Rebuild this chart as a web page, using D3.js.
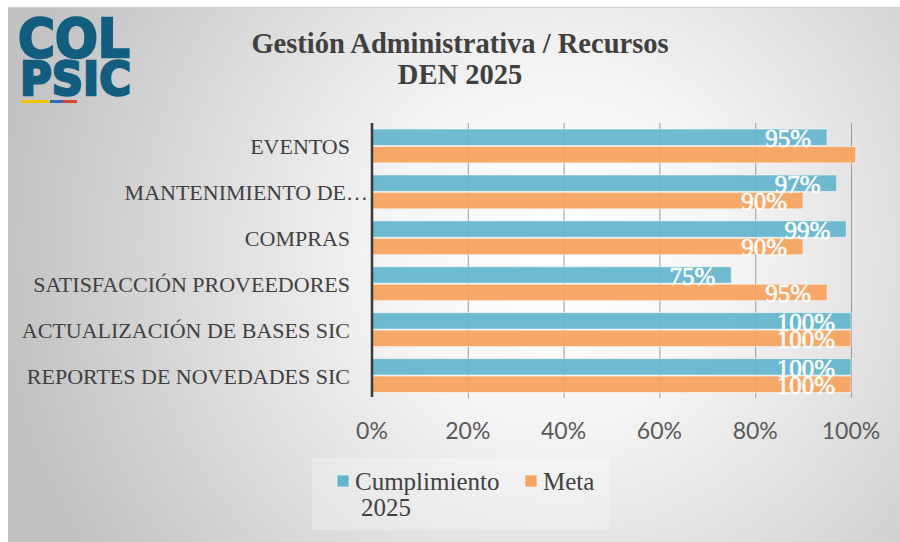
<!DOCTYPE html>
<html><head><meta charset="utf-8">
<script src="https://cdn.jsdelivr.net/npm/d3@7"></script>
<style>body{margin:0;background:#fff}svg{display:block}</style>
</head><body>
<svg id="c" width="900" height="542"></svg>
<script>
const categories = ["EVENTOS","MANTENIMIENTO DE…","COMPRAS","SATISFACCIÓN PROVEEDORES","ACTUALIZACIÓN DE BASES SIC","REPORTES DE NOVEDADES SIC"];
const cumplimiento = [95,97,99,75,100,100];
const meta = [101,90,90,95,100,100];
const metaLabelShown = [false,true,true,true,true,true];
const cumpLabelShown = [true,true,true,true,true,true];
const xTicks = [0,20,40,60,80,100];
const seriesNames = ["Cumplimiento 2025","Meta"];
const titleLines = ["Gestión Administrativa / Recursos","DEN 2025"];

const BLUE = "#63b5cc", ORANGE = "#f5a25e";
const svg = d3.select("#c");
const defs = svg.append("defs");
const rg = defs.append("radialGradient").attr("id","bg")
  .attr("gradientUnits","userSpaceOnUse")
  .attr("cx",560).attr("cy",250).attr("r",560).attr("fx",560).attr("fy",250);
rg.append("stop").attr("offset","0").attr("stop-color","#ffffff");
rg.append("stop").attr("offset","0.3").attr("stop-color","#f5f5f5");
rg.append("stop").attr("offset","1").attr("stop-color","#c2c2c2");

svg.append("rect").attr("x",8).attr("y",7).attr("width",892).attr("height",535).attr("fill","url(#bg)");
svg.append("line").attr("x1",8).attr("x2",900).attr("y1",7.5).attr("y2",7.5).attr("stroke","#d0d0d0").attr("stroke-width",1);

// logo
const logo = svg.append("g");
logo.append("text").attr("x",18).attr("y",57).attr("font-family","DejaVu Sans").attr("font-weight","bold")
  .attr("font-size",54).attr("fill","#115e80").attr("stroke","#115e80").attr("stroke-width",2.5)
  .attr("textLength",112).attr("lengthAdjust","spacingAndGlyphs").text("COL");
logo.append("text").attr("x",20).attr("y",95).attr("font-family","DejaVu Sans").attr("font-weight","bold")
  .attr("font-size",46).attr("fill","#115e80").attr("stroke","#115e80").attr("stroke-width",2.5)
  .attr("textLength",111).attr("lengthAdjust","spacingAndGlyphs").text("PSIC");
[["#f2c200",21,49],["#2a6fb3",50,63],["#d9442c",63,77]].forEach(([c,a,b])=>{
  logo.append("rect").attr("x",a).attr("y",100).attr("width",b-a).attr("height",3).attr("fill",c);
});

// title
svg.append("text").attr("x",460).attr("font-family","Liberation Serif").attr("font-weight","bold")
  .attr("font-size",28.5).attr("fill","#404040").attr("text-anchor","middle")
  .selectAll("tspan").data(titleLines).join("tspan")
  .attr("x",460).attr("y",(d,i)=>53+i*31).text(d=>d);

const x = d3.scaleLinear().domain([0,100]).range([372,851]);
const y = d3.scaleBand().domain(categories).range([123,398.5]).paddingInner(0.24).paddingOuter(0.12);
const sub = d3.scaleBand().domain([0,1]).range([0,y.bandwidth()]);

// gridlines
svg.append("g").selectAll("line").data(xTicks.filter(t=>t>0)).join("line")
  .attr("x1",d=>x(d)+0.5).attr("x2",d=>x(d)+0.5).attr("y1",123).attr("y2",398)
  .attr("stroke","#9a9a9a").attr("stroke-width",1);

const series = [cumplimiento, meta];
const colors = [BLUE, ORANGE];
const shown = [cumpLabelShown, metaLabelShown];
series.forEach((vals,si)=>{
  const g = svg.append("g");
  g.selectAll("rect").data(categories).join("rect")
    .attr("x",x(0)).attr("y",d=>y(d)+sub(si)+0.5)
    .attr("width",(d,i)=>x(vals[i])-x(0)).attr("height",sub.bandwidth()-1)
    .attr("fill",colors[si]).attr("fill-opacity",0.93)
    .attr("stroke","#ffffff").attr("stroke-opacity",0.55).attr("stroke-width",1);
});
series.forEach((vals,si)=>{
  svg.append("g").selectAll("text").data(categories.filter((d,i)=>shown[si][i])).join("text")
    .attr("x",d=>x(vals[categories.indexOf(d)])-16)
    .attr("y",d=>y(d)+sub(si)+sub.bandwidth()+1)
    .attr("text-anchor","end").attr("font-family","Liberation Serif").attr("font-size",25)
    .attr("fill","#ffffff").attr("stroke","#ffffff").attr("stroke-width",0.6)
    .text(d=>vals[categories.indexOf(d)]+"%");
});

// axis line
svg.append("line").attr("x1",x(0)).attr("x2",x(0)).attr("y1",123).attr("y2",397)
  .attr("stroke","#3a3a3a").attr("stroke-width",2.5);

// category labels
svg.append("g").selectAll("text").data(categories).join("text")
  .attr("x",d=>d.endsWith("…")?368:350).attr("y",d=>y(d)+y.bandwidth()/2+8)
  .attr("text-anchor","end").attr("font-family","Liberation Serif").attr("font-size",22)
  .attr("fill","#404040").text(d=>d);

// tick labels
svg.append("g").selectAll("text").data(xTicks).join("text")
  .attr("x",d=>x(d)).attr("y",439).attr("text-anchor","middle")
  .attr("font-family","Lato").attr("font-size",23).attr("fill","#595959").text(d=>d+"%");

// legend
svg.append("rect").attr("x",312).attr("y",458).attr("width",298).attr("height",72)
  .attr("fill","#ffffff").attr("fill-opacity",0.25);
const legX = [337,525];
seriesNames.forEach((nm,i)=>{
  svg.append("rect").attr("x",legX[i]).attr("y",475).attr("width",12).attr("height",12)
    .attr("fill",colors[i]).attr("stroke","#ffffff").attr("stroke-opacity",0.6);
  const parts = nm.includes(" ") ? [nm.slice(0,nm.lastIndexOf(" ")), nm.slice(nm.lastIndexOf(" ")+1)] : [nm];
  svg.append("text").attr("font-family","Liberation Serif").attr("font-size",25).attr("fill","#404040")
    .selectAll("tspan").data(parts).join("tspan")
    .attr("x",(d,j)=>legX[i]+18+(j?6:0)).attr("y",(d,j)=>490+j*26).text(d=>d);
});
</script>
</body></html>
